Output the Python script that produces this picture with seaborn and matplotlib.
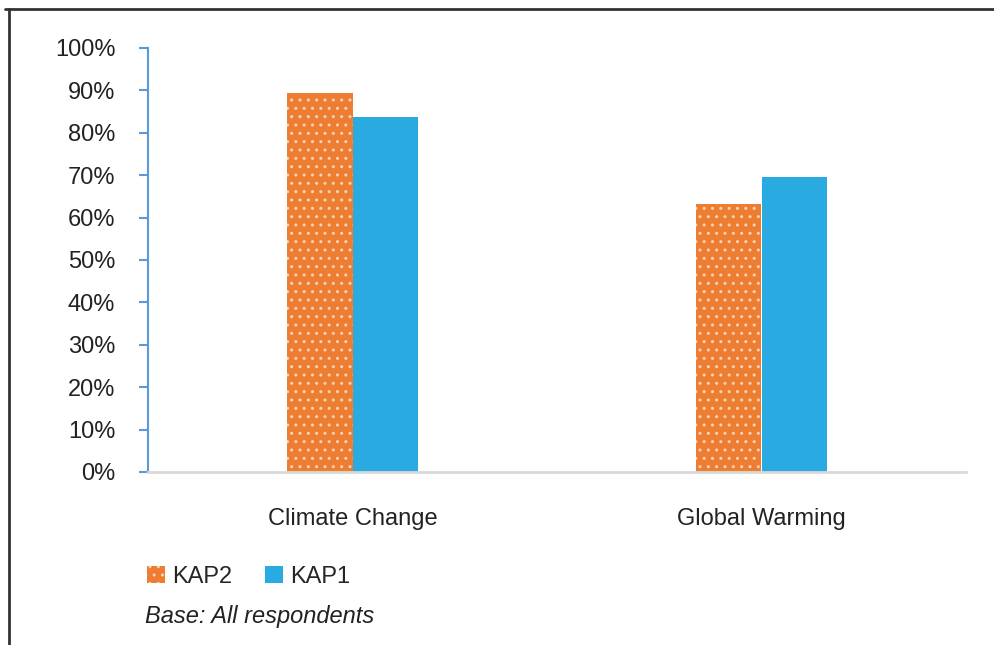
import pandas as pd
import matplotlib.pyplot as plt
import seaborn as sns
from matplotlib.lines import Line2D
from matplotlib.patches import Patch

# Data
categories = ["Climate Change", "Global Warming"]
kap2 = [89.5, 63.3]
kap1 = [83.7, 69.6]
yticks = list(range(0, 101, 10))

orange = "#ed7d31"
blue = "#29abe2"
dot = "#f8d2b8"

df = pd.DataFrame({
    "category": categories * 2,
    "survey": ["KAP2"] * len(categories) + ["KAP1"] * len(categories),
    "value": kap2 + kap1,
})

sns.set_style("white")
plt.rcParams["font.family"] = ["Liberation Sans", "DejaVu Sans"]
plt.rcParams["hatch.linewidth"] = 1.0

fig = plt.figure(figsize=(9.94, 6.45), dpi=100)
ax = fig.add_axes([148 / 994, 1 - 472 / 645, (966 - 148) / 994, (472 - 48) / 645])

sns.barplot(data=df, x="category", y="value", hue="survey",
            palette={"KAP2": orange, "KAP1": blue}, width=0.32,
            saturation=1, ax=ax, legend=False)

# no white edges between adjacent bars
for p in ax.patches:
    p.set_linewidth(0)

# dotted fill on KAP2 bars (hatch takes edge colour, edge itself hidden)
for p in ax.patches[:len(categories)]:
    p.set_hatch("..")
    p.set_edgecolor(dot)

fs = 17
ax.set_ylim(0, 100)
ax.set_xlim(-0.5, 1.5)
ax.set_yticks(yticks)
ax.set_yticklabels([f"{t}%" for t in yticks], fontsize=fs, color="#222222")
ax.set_xticklabels(categories, fontsize=fs, color="#222222")
ax.set_xlabel("")
ax.set_ylabel("")

for s in ["top", "right"]:
    ax.spines[s].set_visible(False)
ax.spines["left"].set_color("#5b9bd5")
ax.spines["left"].set_linewidth(1.5)
ax.spines["bottom"].set_color("#d9d9d9")
ax.spines["bottom"].set_linewidth(2)
ax.tick_params(axis="y", direction="out", length=6.5, width=1.5, color="#5b9bd5", pad=17, left=True)
ax.tick_params(axis="x", length=0, pad=26)

# legend
handles = [Patch(facecolor=orange, hatch="..", edgecolor=dot, linewidth=0, label="KAP2"),
           Patch(facecolor=blue, linewidth=0, label="KAP1")]
fig.legend(handles=handles, loc="center left", bbox_to_anchor=(126 / 994, 1 - 577 / 645),
           ncol=2, frameon=False, fontsize=fs, handlelength=0.75, handleheight=0.75,
           handletextpad=0.3, columnspacing=1.4)

fig.text(145 / 994, 1 - 616 / 645, "Base: All respondents", fontsize=fs,
         style="italic", color="#222222", va="center")

# outer frame lines
fig.add_artist(Line2D([5 / 994, 1], [1 - 9 / 645] * 2, color="#333333", lw=2))
fig.add_artist(Line2D([9 / 994] * 2, [0, 1 - 9 / 645], color="#333333", lw=2))

fig.savefig("out.png", dpi=100)
